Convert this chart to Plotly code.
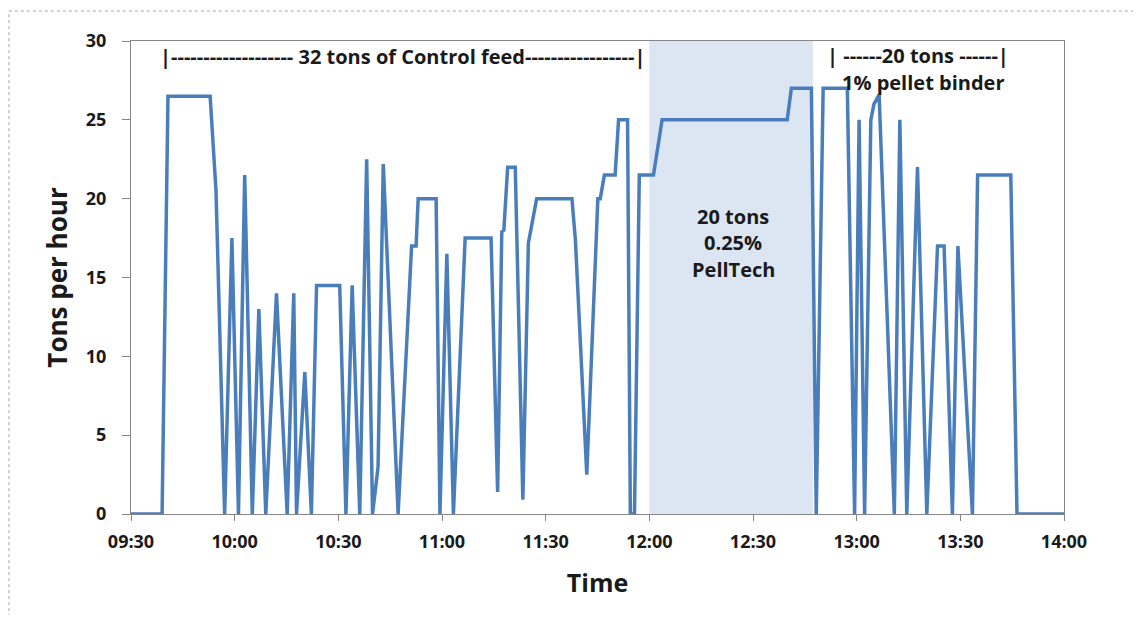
import plotly.graph_objects as go

DATE = "2000-01-01 "

times = [
    "09:30:00", "09:39:00", "09:40:42", "09:52:54", "09:54:36", "09:57:06",
    "09:59:12", "10:01:06", "10:02:54", "10:05:06", "10:07:00", "10:09:00",
    "10:12:06", "10:15:12", "10:17:06", "10:17:54", "10:20:18", "10:22:12",
    "10:23:42", "10:30:24", "10:32:12", "10:34:00", "10:36:12", "10:38:12",
    "10:39:54", "10:41:30", "10:43:00", "10:47:18", "10:51:12", "10:52:30",
    "10:53:06", "10:58:18", "10:59:24", "11:01:24", "11:03:18", "11:06:42",
    "11:14:12", "11:16:06", "11:17:18", "11:17:54", "11:19:00", "11:21:12",
    "11:23:24", "11:25:00", "11:27:24", "11:37:36", "11:38:36", "11:41:54",
    "11:45:06", "11:45:48", "11:47:00", "11:50:06", "11:51:06", "11:53:42",
    "11:54:30", "11:55:42", "11:57:06", "12:01:12", "12:03:42", "12:39:54",
    "12:41:06", "12:46:54", "12:48:18", "12:50:18", "12:57:18", "12:59:24",
    "13:00:42", "13:02:18", "13:04:06", "13:05:00", "13:06:30", "13:10:54",
    "13:12:30", "13:14:30", "13:17:36", "13:20:18", "13:23:24", "13:25:18",
    "13:27:42", "13:29:18", "13:33:30", "13:35:00", "13:44:36", "13:46:24",
    "14:00:00",
]

tons_per_hour = [
    0, 0, 26.5, 26.5, 20.5, 0,
    17.5, 0, 21.5, 0, 13.0, 0,
    14.0, 0, 14.0, 0, 9.0, 0,
    14.5, 14.5, 0, 14.5, 0, 22.5,
    0, 3.0, 22.2, 0, 17.0, 17.0,
    20.0, 20.0, 0, 16.5, 0, 17.5,
    17.5, 1.4, 17.9, 18.0, 22.0, 22.0,
    0.9, 17.2, 20.0, 20.0, 17.4, 2.5,
    20.0, 20.0, 21.5, 21.5, 25.0, 25.0,
    0, 0, 21.5, 21.5, 25.0, 25.0,
    27.0, 27.0, 0, 27.0, 27.0, 0,
    25.0, 0, 25.0, 26.0, 26.6, 0,
    25.0, 0, 22.0, 0, 17.0, 17.0,
    0, 17.0, 0, 21.5, 21.5, 0,
    0,
]

x_tick_labels = ["09:30", "10:00", "10:30", "11:00", "11:30", "12:00",
                 "12:30", "13:00", "13:30", "14:00"]
y_ticks = [0, 5, 10, 15, 20, 25, 30]

pelltech_start = "12:00:00"
pelltech_end = "12:47:20"

x_vals = [DATE + t for t in times]
tick_vals = [DATE + t + ":00" for t in x_tick_labels]

FONT = "Open Sans"
TXT = "#1a1a1a"
AX = "#868686"

fig = go.Figure()

fig.add_shape(type="rect", xref="x", yref="paper",
              x0=DATE + pelltech_start, x1=DATE + pelltech_end, y0=0, y1=1,
              fillcolor="#dce6f2", line_width=0, layer="below")

fig.add_trace(go.Scatter(
    x=x_vals, y=tons_per_hour, mode="lines",
    line=dict(color="#4a7ebb", width=3.5),
    showlegend=False, hoverinfo="x+y",
))

annots = [
    ("|------------------- 32 tons of Control feed-----------------|", "10:48:33", 29.0),
    ("| ------20 tons ------|", "13:17:40", 29.1),
    ("1% pellet binder", "13:19:06", 27.35),
    ("20 tons", "12:24:20", 18.9),
    ("0.25%", "12:24:20", 17.2),
    ("PellTech", "12:24:20", 15.5),
]
for text, tx, ty in annots:
    fig.add_annotation(x=DATE + tx, y=ty, text=text, showarrow=False,
                       xanchor="center", yanchor="middle",
                       font=dict(family=FONT, size=20, color=TXT, weight="bold"))

# outer dotted chart border
fig.add_shape(type="rect", xref="paper", yref="paper",
              x0=-0.1308, x1=1.0782, y0=-0.3, y1=1.0634,
              line=dict(color="#a6a6a6", width=1, dash="dot"),
              fillcolor="rgba(0,0,0,0)")

fig.update_layout(
    width=1133, height=607,
    margin=dict(l=123, r=77, t=33, b=101),
    paper_bgcolor="white", plot_bgcolor="white",
    font=dict(family=FONT, color=TXT),
    xaxis=dict(
        range=[DATE + "09:30:00", DATE + "14:00:00"],
        tickvals=tick_vals, ticktext=x_tick_labels,
        showgrid=False, zeroline=False,
        showline=True, linecolor=AX, linewidth=1, mirror=True,
        ticks="outside", ticklen=6, tickcolor=AX,
        ticklabelstandoff=5,
        tickfont=dict(family=FONT, size=18, color=TXT, weight="bold"),
        title=dict(text="Time", font=dict(family=FONT, size=25, color=TXT, weight="bold"),
                   standoff=22),
    ),
    yaxis=dict(
        range=[0, 30], tickvals=y_ticks,
        showgrid=False, zeroline=False,
        showline=True, linecolor=AX, linewidth=1, mirror=True,
        ticks="outside", ticklen=8, tickcolor=AX,
        ticklabelstandoff=12,
        tickfont=dict(family=FONT, size=18, color=TXT, weight="bold"),
        title=dict(text="Tons per hour", font=dict(family=FONT, size=26, color=TXT, weight="bold"),
                   standoff=10),
    ),
)

fig.write_html("out.html")
